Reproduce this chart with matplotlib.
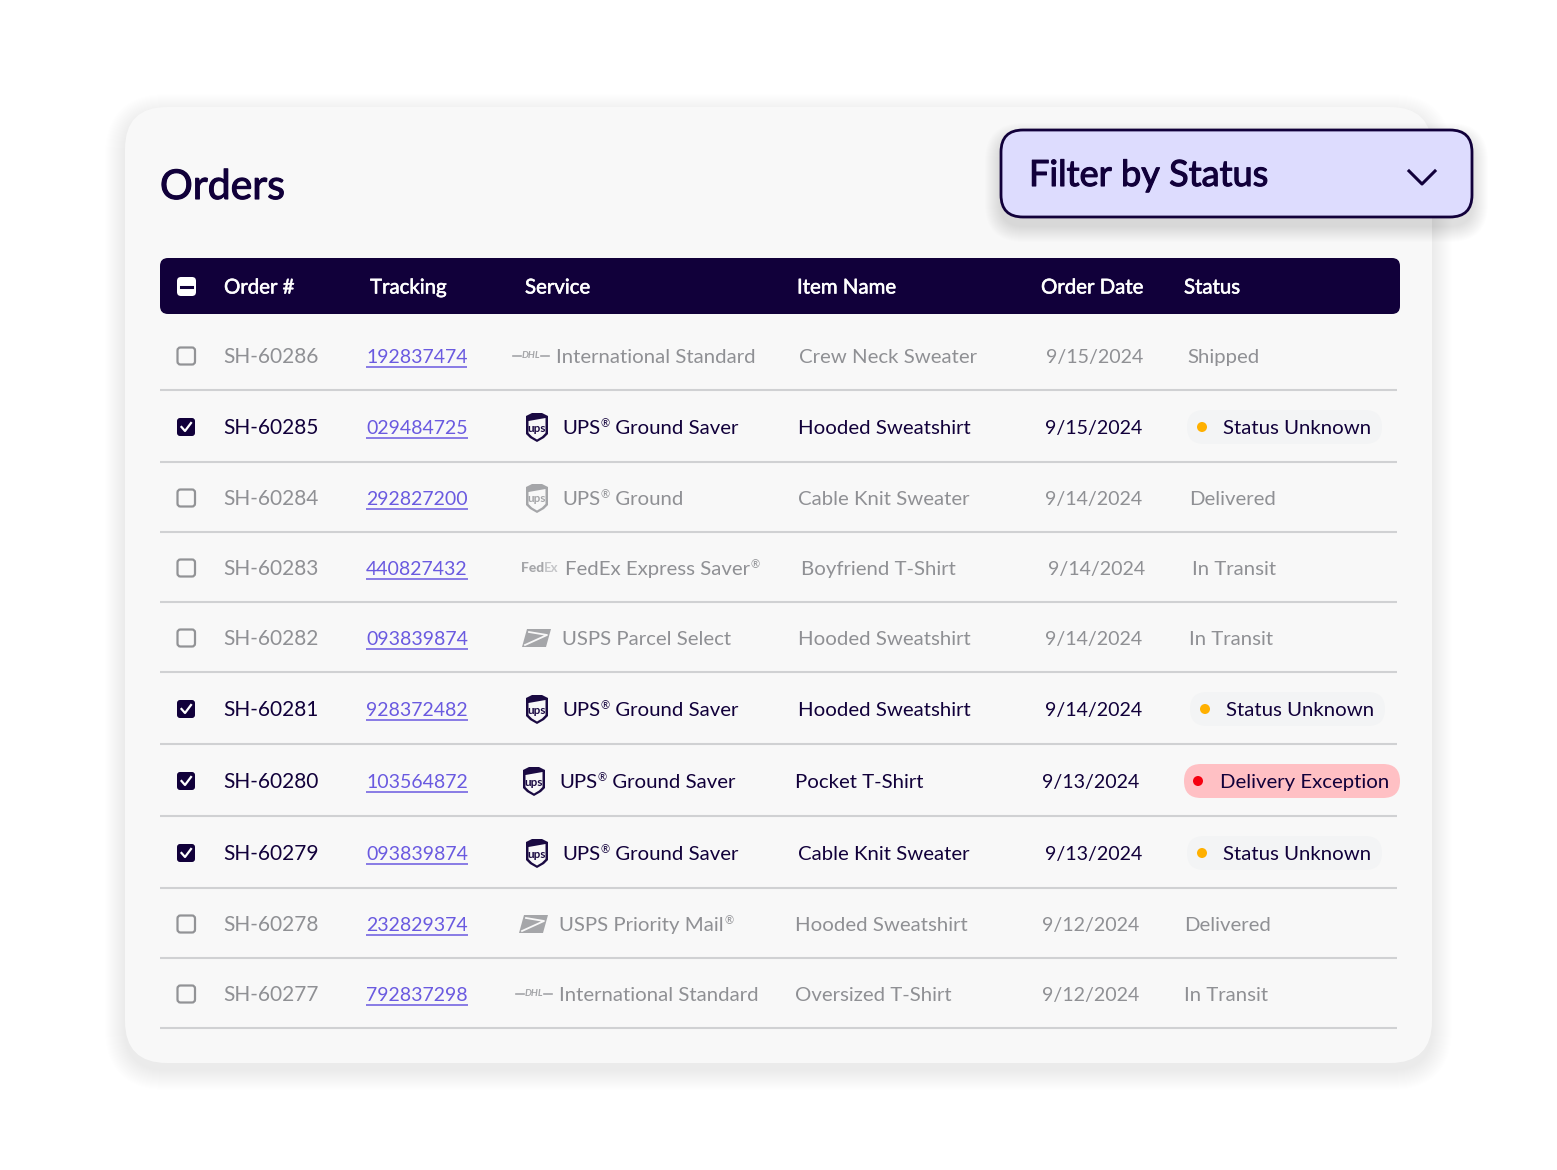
import matplotlib
matplotlib.use('Agg')
import matplotlib.pyplot as plt
import matplotlib.patheffects as pe
from matplotlib.patches import FancyBboxPatch, Polygon, Circle

plt.rcParams['font.family'] = ['Lato', 'DejaVu Sans']

# table content
headers = ['Order #', 'Tracking', 'Service', 'Item Name', 'Order Date', 'Status']
orders = ['SH-60286', 'SH-60285', 'SH-60284', 'SH-60283', 'SH-60282',
          'SH-60281', 'SH-60280', 'SH-60279', 'SH-60278', 'SH-60277']
tracking = ['192837474', '029484725', '292827200', '440827432', '093839874',
            '928372482', '103564872', '093839874', '232829374', '792837298']
services = ['International Standard', 'UPS® Ground Saver', 'UPS® Ground', 'FedEx Express Saver®',
            'USPS Parcel Select', 'UPS® Ground Saver', 'UPS® Ground Saver', 'UPS® Ground Saver',
            'USPS Priority Mail®', 'International Standard']
carriers = ['dhl', 'ups', 'ups', 'fedex', 'usps', 'ups', 'ups', 'ups', 'usps', 'dhl']
items = ['Crew Neck Sweater', 'Hooded Sweatshirt', 'Cable Knit Sweater', 'Boyfriend T-Shirt',
         'Hooded Sweatshirt', 'Hooded Sweatshirt', 'Pocket T-Shirt', 'Cable Knit Sweater',
         'Hooded Sweatshirt', 'Oversized T-Shirt']
dates = ['9/15/2024', '9/15/2024', '9/14/2024', '9/14/2024', '9/14/2024',
         '9/14/2024', '9/13/2024', '9/13/2024', '9/12/2024', '9/12/2024']
statuses = ['Shipped', 'Status Unknown', 'Delivered', 'In Transit', 'In Transit',
            'Status Unknown', 'Delivery Exception', 'Status Unknown', 'Delivered', 'In Transit']
checked = [False, True, False, False, False, True, True, True, False, False]

# layout in pixels
row_y = [356, 427, 498, 568, 638, 709, 781, 853, 924, 994]
rule_y = [390, 462, 532, 602, 672, 744, 816, 888, 958, 1028]
service_x = [556, 562, 562, 565, 562, 562, 559, 562, 559, 559]
logo_x = [531, 537, 537, 539, 537, 537, 534, 537, 534, 534]
item_x = [799, 798, 798, 801, 798, 798, 795, 798, 795, 795]
date_x = [1046, 1045, 1045, 1048, 1045, 1045, 1042, 1045, 1042, 1042]
status_x = [1187, 1223, 1189, 1192, 1189, 1226, 1220, 1223, 1184, 1184]
header_x = [224, 370, 525, 797, 1041, 1184]

NAVY = '#11003a'
GREY = '#8f9094'
LINK = '#6a5ae0'
FS = 14.7
FS_ORDER = 15.0
FS_TRACK = 14.0
FS_DATE = 14.1
BASE = 7  # baseline below the row centre


def box(ax, x0, y0, x1, y1, r, fc, ec='none', lw=0, alpha=1, z=2):
    p = FancyBboxPatch((x0, y0), x1 - x0, y1 - y0, boxstyle=f'round,pad=0,rounding_size={r}',
                       fc=fc, ec=ec, lw=lw, alpha=alpha, zorder=z)
    ax.add_patch(p)
    return p


def shadow(ax, x0, y0, x1, y1, r, dy, spread, alpha, z):
    # stacked translucent boxes stand in for a blur
    for i in range(spread, 0, -1):
        box(ax, x0 - i, y0 + dy - i, x1 + i, y1 + dy + i, r + i, '#30304a', alpha=alpha, z=z)


def heavier(t, width, col):
    # Lato jumps from regular to bold here, a thin outline sits between them
    t.set_path_effects([pe.withStroke(linewidth=width, foreground=col)])


def service_text(ax, x, y, s, col):
    # the ® sits small and raised, so each piece is drawn on its own
    parts = s.split('®')
    for k, part in enumerate(parts):
        if part:
            t = ax.text(x, y + BASE, part, fontsize=FS, color=col, va='baseline', zorder=5)
            x += t.get_window_extent(renderer).width
        if k < len(parts) - 1:
            t = ax.text(x + 0.5, y, '®', fontsize=8, color=col, va='baseline', zorder=5)
            x += t.get_window_extent(renderer).width + 1


def draw_logo(ax, kind, x, y, col):
    if kind == 'ups':
        shield = [(-11, -11), (-5, -14), (5, -14), (11, -11), (11, 7), (7, 11), (0, 15), (-7, 11), (-11, 7)]
        ax.add_patch(Polygon([(x + a, y + b) for a, b in shield], closed=True, fc=col, ec='none', zorder=4))
        inner = [(-8.5, -6), (8.5, -9), (8.5, 6), (5, 9.5), (0, 12.5), (-5, 9.5), (-8.5, 6)]
        ax.add_patch(Polygon([(x + a, y + b) for a, b in inner], closed=True, fc='#f8f8f8', ec='none', zorder=4))
        ax.text(x, y + 1, 'ups', fontsize=8.5, color=col, ha='center', va='center',
                weight='bold', zorder=5)
    elif kind == 'dhl':
        ax.plot([x - 18, x - 10], [y, y], color=col, lw=1.2, zorder=4)
        ax.plot([x + 10, x + 18], [y, y], color=col, lw=1.2, zorder=4)
        ax.text(x, y, 'DHL', fontsize=7, color=col, ha='center', va='center',
                weight='bold', style='italic', zorder=5)
    elif kind == 'fedex':
        ax.text(x - 18, y, 'Fed', fontsize=10, color=col, ha='left', va='center', weight='black', zorder=5)
        ax.text(x + 5, y, 'Ex', fontsize=9.5, color='#c4c5c8', ha='left', va='center', weight='bold', zorder=5)
    else:
        env = [(-10, -9), (14, -9), (9, 9), (-15, 9)]
        ax.add_patch(Polygon([(x + a, y + b) for a, b in env], closed=True, fc=col, ec='none', zorder=4))
        ax.plot([x - 8, x + 10, x - 12], [y - 6, y - 3, y + 7], color='#f8f8f8', lw=1.3, zorder=5)


def draw_check(ax, y, on):
    if on:
        box(ax, 177, y - 9, 195, y + 9, 3, NAVY, z=4)
        ax.plot([181.5, 185, 191], [y, y + 4, y - 4], color='white', lw=1.6, zorder=5)
    else:
        box(ax, 177.5, y - 8.5, 195, y + 8.5, 3, 'none', ec='#929396', lw=1.6, z=4)


fig = plt.figure(figsize=(15.57, 11.70), dpi=100, facecolor='white')
ax = fig.add_axes([0, 0, 1, 1])
ax.set_xlim(0, 1557)
ax.set_ylim(1170, 0)
ax.axis('off')
renderer = fig.canvas.get_renderer()

# card
shadow(ax, 125, 107, 1432, 1063, 42, 7, 20, 0.002, 1)
box(ax, 125, 107, 1432, 1063, 42, '#f8f8f8', z=2)
t = ax.text(160, 199, 'Orders', fontsize=29.5, color=NAVY, va='baseline', zorder=3)
heavier(t, 0.8, NAVY)

# filter dropdown
shadow(ax, 1001, 130, 1472, 217, 22, 9, 16, 0.007, 3)
box(ax, 1001, 130, 1472, 217, 22, '#dddcfe', ec=NAVY, lw=2.0, z=4)
t = ax.text(1029, 186, 'Filter by Status', fontsize=26, color=NAVY, va='baseline', zorder=5)
heavier(t, 0.8, NAVY)
ax.plot([1409, 1422, 1435], [171, 184, 171], color=NAVY, lw=2.2, zorder=5)

# header row
box(ax, 160, 258, 1400, 314, 8, NAVY, z=3)
box(ax, 177, 277, 196, 296, 4, 'white', z=4)
ax.plot([181, 192], [286.5, 286.5], color=NAVY, lw=2.2, zorder=5)
for hx, label in zip(header_x, headers):
    t = ax.text(hx, 293.5, label, fontsize=FS, color='white', va='baseline', zorder=5)
    heavier(t, 0.4, 'white')

# rows
for i, y in enumerate(row_y):
    col = NAVY if checked[i] else GREY
    ax.plot([160, 1397], [rule_y[i], rule_y[i]], color='#d0d1d3', lw=1.5, solid_capstyle='butt', zorder=3)
    draw_check(ax, y, checked[i])
    ax.text(223, y + BASE, orders[i], fontsize=FS_ORDER, color=col, va='baseline', zorder=5)
    t = ax.text(366, y + BASE, tracking[i], fontsize=FS_TRACK, color=LINK, va='baseline', zorder=5)
    ext = t.get_window_extent(renderer)
    ax.plot([366, 366 + ext.width], [y + 11, y + 11], color=LINK, lw=1.1,
            solid_capstyle='butt', zorder=5)
    draw_logo(ax, carriers[i], logo_x[i], y, '#1a0a42' if checked[i] else '#a5a6a9')
    service_text(ax, service_x[i], y, services[i], col)
    ax.text(item_x[i], y + BASE, items[i], fontsize=FS, color=col, va='baseline', zorder=5)
    ax.text(date_x[i], y + BASE, dates[i], fontsize=FS_DATE, color=col, va='baseline', zorder=5)
    if statuses[i] == 'Delivery Exception':
        box(ax, 1184, y - 17, 1400, y + 17, 17, '#ffc0c4', z=4)
        ax.add_patch(Circle((1198, y), 5, fc='#f5000f', ec='none', zorder=5))
    elif statuses[i] == 'Status Unknown':
        box(ax, status_x[i] - 36, y - 17, status_x[i] + 159, y + 17, 17, '#f3f4f5', z=4)
        ax.add_patch(Circle((status_x[i] - 21, y), 5, fc='#ffb000', ec='none', zorder=5))
    ax.text(status_x[i], y + BASE, statuses[i], fontsize=FS, color=col, va='baseline', zorder=6)

fig.savefig('out.png', dpi=100, facecolor='white')
